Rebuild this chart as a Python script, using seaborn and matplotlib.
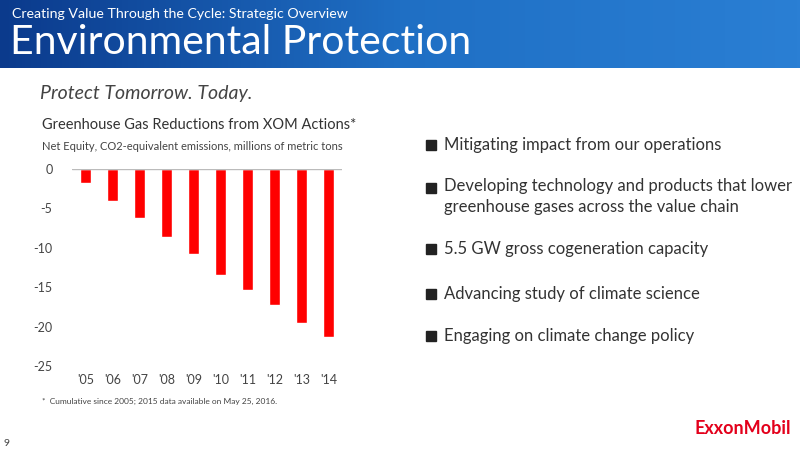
import matplotlib
matplotlib.use("Agg")
import matplotlib.pyplot as plt
import seaborn as sns
import numpy as np
import pandas as pd
from matplotlib.patches import Rectangle
from matplotlib.colors import LinearSegmentedColormap

years = ["'05", "'06", "'07", "'08", "'09", "'10", "'11", "'12", "'13", "'14"]
values = [-1.8, -4.1, -6.2, -8.6, -10.8, -13.5, -15.4, -17.3, -19.5, -21.3]
yticks = [0, -5, -10, -15, -20, -25]
bullets = ["Mitigating impact from our operations",
           "Developing technology and products that lower\ngreenhouse gases across the value chain",
           "5.5 GW gross cogeneration capacity",
           "Advancing study of climate science",
           "Engaging on climate change policy"]

sns.set_style("white")
plt.rcParams['font.family'] = ['Lato', 'DejaVu Sans']
fig = plt.figure(figsize=(8, 4.5), dpi=100)

hdr = fig.add_axes([0, 1 - 68/450, 1, 68/450])
grad = np.linspace(0, 1, 256).reshape(1, -1)
cm = LinearSegmentedColormap.from_list("h", ["#0b3a8c", "#1f6fc4", "#2a7fd4"])
hdr.imshow(grad, aspect="auto", cmap=cm, extent=[0, 1, 0, 1])
hdr.axis("off")
fig.text(12/800, 1 - 14/450, "Creating Value Through the Cycle: Strategic Overview", color="white", fontsize=10.2, va="center")
fig.text(10/800, 1 - 42/450, "Environmental Protection", color="white", fontsize=29.5, va="center")

fig.text(40/800, 1 - 93/450, "Protect Tomorrow. Today.", color="#444444", fontsize=14, style="italic", va="center")
fig.text(42/800, 1 - 125/450, "Greenhouse Gas Reductions from XOM Actions*", color="#333333", fontsize=10.5, va="center")
fig.text(42/800, 1 - 146/450, "Net Equity, CO2-equivalent emissions, millions of metric tons", color="#444444", fontsize=8, va="center")

ax = fig.add_axes([72/800, 1 - 366/450, 270/800, 197/450])
df = pd.DataFrame({"year": years, "value": values})
sns.barplot(data=df, x="year", y="value", color="#ff0000", width=0.4, ax=ax, saturation=1)
ax.set_ylim(-25, 0)
ax.set_yticks(yticks)
ax.set_yticklabels([str(t) for t in yticks], fontsize=9, color="#444444")
ax.tick_params(axis="x", labelsize=9, labelcolor="#444444", length=0, pad=6)
ax.tick_params(axis="y", length=0, pad=14)
ax.set_xlabel(""); ax.set_ylabel("")
for s in ax.spines.values():
    s.set_visible(False)
ax.axhline(0, color="#bbbbbb", lw=1)
ax.set_xlim(-0.5, 9.5)

fig.text(42/800, 1 - 404/450, "*  Cumulative since 2005; 2015 data available on May 25, 2016.", color="#444444", fontsize=6)
fig.text(4/800, 1 - 443/450, "9", color="#444444", fontsize=7.5, va="center")

ys = [145, 188, 249, 294, 336]
for y, b in zip(ys, bullets):
    fig.patches.append(Rectangle((426/800, 1 - (y + 5)/450), 10/800, 10/450, transform=fig.transFigure, color="#222222"))
    if "\n" in b:
        fig.text(444/800, 1 - 178/450, b, fontsize=12, color="#333333", va="top", linespacing=1.35)
    else:
        fig.text(444/800, 1 - y/450, b, fontsize=12, color="#333333", va="center")

fig.text(694/800, 1 - 428/450, "ExxonMobil", color="#e3001b", fontsize=13, fontweight="bold", va="center")
fig.savefig("out.png", dpi=100)
